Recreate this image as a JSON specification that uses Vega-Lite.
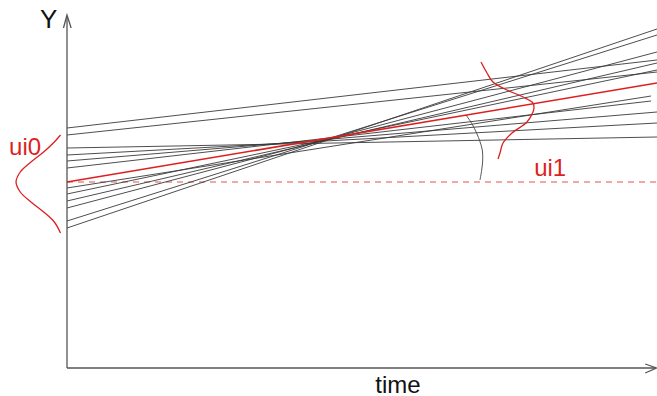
{
  "$schema": "https://vega.github.io/schema/vega-lite/v6.json",
  "width": 657,
  "height": 396,
  "padding": 0,
  "autosize": {"type": "none"},
  "background": "white",
  "config": {"view": {"stroke": null}},
  "datasets": {
    "lines": [
      {"id": 1, "x": 0, "y": 14.0}, {"id": 1, "x": 10, "y": 33.9},
      {"id": 2, "x": 0, "y": 14.7}, {"id": 2, "x": 10, "y": 33.3},
      {"id": 3, "x": 0, "y": 16.0}, {"id": 3, "x": 10, "y": 31.6},
      {"id": 4, "x": 0, "y": 16.7}, {"id": 4, "x": 10, "y": 30.5},
      {"id": 5, "x": 0, "y": 17.4}, {"id": 5, "x": 10, "y": 29.8},
      {"id": 6, "x": 0, "y": 18.0}, {"id": 6, "x": 9.9, "y": 27.2},
      {"id": 7, "x": 0, "y": 20.0}, {"id": 7, "x": 9.9, "y": 26.7},
      {"id": 8, "x": 0, "y": 20.7}, {"id": 8, "x": 10, "y": 25.6},
      {"id": 9, "x": 0, "y": 21.3}, {"id": 9, "x": 10, "y": 24.5},
      {"id": 10, "x": 0, "y": 22.0}, {"id": 10, "x": 10, "y": 23.1},
      {"id": 11, "x": 0, "y": 23.3}, {"id": 11, "x": 10, "y": 29.6},
      {"id": 12, "x": 0, "y": 24.0}, {"id": 12, "x": 10, "y": 30.8}
    ],
    "red": [{"x": 0, "y": 18.6}, {"x": 10, "y": 28.5}],
    "dashed": [{"x": 0, "y": 18.6}, {"x": 10, "y": 18.6}],
    "axes": [
      {"id": "ya", "o": 1, "x": 0, "y": 0}, {"id": "ya", "o": 2, "x": 0, "y": 35.2},
      {"id": "yh", "o": 1, "x": -0.06, "y": 34.0}, {"id": "yh", "o": 2, "x": 0, "y": 35.3}, {"id": "yh", "o": 3, "x": 0.07, "y": 34.0},
      {"id": "xa", "o": 1, "x": 0, "y": 0}, {"id": "xa", "o": 2, "x": 9.98, "y": 0},
      {"id": "xh", "o": 1, "x": 9.8, "y": 0.4}, {"id": "xh", "o": 2, "x": 9.99, "y": 0}, {"id": "xh", "o": 3, "x": 9.8, "y": -0.5}
    ],
    "curves": [
      {"id": "g0", "o": 1, "x": -0.11, "y": 23.3},
      {"id": "g0", "o": 2, "x": -0.215, "y": 22.6},
      {"id": "g0", "o": 3, "x": -0.396, "y": 21.6},
      {"id": "g0", "o": 4, "x": -0.611, "y": 20.6},
      {"id": "g0", "o": 5, "x": -0.792, "y": 19.6},
      {"id": "g0", "o": 6, "x": -0.864, "y": 18.6},
      {"id": "g0", "o": 7, "x": -0.792, "y": 17.6},
      {"id": "g0", "o": 8, "x": -0.611, "y": 16.6},
      {"id": "g0", "o": 9, "x": -0.396, "y": 15.6},
      {"id": "g0", "o": 10, "x": -0.215, "y": 14.6},
      {"id": "g0", "o": 11, "x": -0.11, "y": 13.5},
      {"id": "g1", "o": 1, "x": 7.017, "y": 30.6},
      {"id": "g1", "o": 2, "x": 7.119, "y": 29.5},
      {"id": "g1", "o": 3, "x": 7.22, "y": 28.6},
      {"id": "g1", "o": 4, "x": 7.458, "y": 27.8},
      {"id": "g1", "o": 5, "x": 7.729, "y": 27.1},
      {"id": "g1", "o": 6, "x": 7.898, "y": 26.5},
      {"id": "g1", "o": 7, "x": 7.915, "y": 26.0},
      {"id": "g1", "o": 8, "x": 7.898, "y": 25.6},
      {"id": "g1", "o": 9, "x": 7.797, "y": 24.6},
      {"id": "g1", "o": 10, "x": 7.542, "y": 23.5},
      {"id": "g1", "o": 11, "x": 7.39, "y": 22.5},
      {"id": "g1", "o": 12, "x": 7.339, "y": 21.5},
      {"id": "g1", "o": 13, "x": 7.305, "y": 20.9}
    ],
    "arc": [
      {"o": 1, "x": 6.763, "y": 25.3},
      {"o": 2, "x": 6.859, "y": 24.47},
      {"o": 3, "x": 6.944, "y": 23.47},
      {"o": 4, "x": 7.0, "y": 22.63},
      {"o": 5, "x": 7.039, "y": 21.8},
      {"o": 6, "x": 7.046, "y": 20.8},
      {"o": 7, "x": 7.029, "y": 19.8},
      {"o": 8, "x": 7.0, "y": 18.8}
    ],
    "blacktext": [
      {"t": "Y", "x": -0.31, "y": 34.0, "s": 26},
      {"t": "time", "x": 5.61, "y": -2.45, "s": 24}
    ],
    "redtext": [
      {"t": "ui0", "x": -0.71, "y": 21.3},
      {"t": "ui1", "x": 8.19, "y": 19.2}
    ]
  },
  "encoding": {
    "x": {"field": "x", "type": "quantitative", "scale": {"domain": [-1.13559, 10], "nice": false, "zero": false}, "axis": null},
    "y": {"field": "y", "type": "quantitative", "scale": {"domain": [-2.8, 36.8], "nice": false, "zero": false}, "axis": null}
  },
  "layer": [
    {"data": {"name": "dashed"}, "mark": {"type": "line", "color": "#ee8c8c", "strokeWidth": 1.3, "strokeDash": [6, 5]}},
    {"data": {"name": "lines"}, "mark": {"type": "line", "color": "#3a3a3a", "strokeWidth": 0.9}, "encoding": {"detail": {"field": "id", "type": "nominal"}}},
    {"data": {"name": "red"}, "mark": {"type": "line", "color": "#dd1f1f", "strokeWidth": 1.5}},
    {"data": {"name": "axes"}, "mark": {"type": "line", "color": "#555555", "strokeWidth": 1.3}, "encoding": {"detail": {"field": "id", "type": "nominal"}, "order": {"field": "o", "type": "quantitative"}}},
    {"data": {"name": "curves"}, "mark": {"type": "line", "color": "#dd1f1f", "strokeWidth": 1.3, "interpolate": "catmull-rom"}, "encoding": {"detail": {"field": "id", "type": "nominal"}, "order": {"field": "o", "type": "quantitative"}}},
    {"data": {"name": "arc"}, "mark": {"type": "line", "color": "#444444", "strokeWidth": 0.9, "interpolate": "catmull-rom"}, "encoding": {"order": {"field": "o", "type": "quantitative"}}},
    {"data": {"name": "blacktext"}, "mark": {"type": "text", "color": "#111111", "font": "Liberation Sans", "align": "center", "baseline": "alphabetic"}, "encoding": {"text": {"field": "t"}, "size": {"field": "s", "type": "quantitative", "scale": null}}},
    {"data": {"name": "redtext"}, "mark": {"type": "text", "color": "#dd1f1f", "font": "Liberation Sans", "fontSize": 24, "align": "center", "baseline": "alphabetic"}, "encoding": {"text": {"field": "t"}}}
  ]
}
